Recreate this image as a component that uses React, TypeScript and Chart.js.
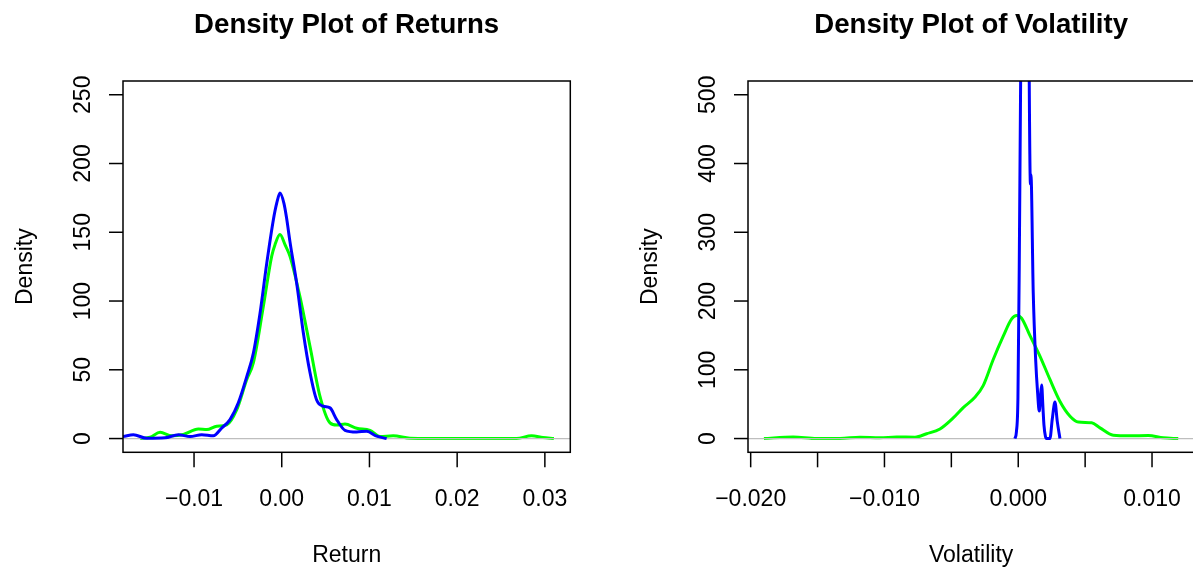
import React, { useEffect, useRef } from "react";
import { Chart, registerables } from "chart.js";

Chart.register(...registerables);

const FONT = '"Liberation Sans", Arial, Helvetica, sans-serif';

// ---------- Returns panel ----------
const retTitle = "Density Plot of Returns";
const retXTitle = "Return";
const retXTicks = [-0.01, 0, 0.01, 0.02, 0.03];
const retXTickLabels = ["\u22120.01", "0.00", "0.01", "0.02", "0.03"];
const retYTicks = [0, 50, 100, 150, 200, 250];
const retYTickLabels = ["0", "50", "100", "150", "200", "250"];

const retGreenX = [
  -0.01615, -0.01501, -0.01387, -0.01254, -0.01122, -0.00951, -0.00855, -0.00741,
  -0.00627, -0.00513, -0.00399, -0.00324, -0.0021, -0.00115, -0.00077, -0.0002,
  0.00037, 0.00094, 0.00208, 0.00322, 0.00436, 0.0055, 0.00626, 0.00721, 0.00854,
  0.01006, 0.0112, 0.01271, 0.01462, 0.01689, 0.02678, 0.02848, 0.02977, 0.03103,
];
const retGreenY = [
  0, 1, 4.5, 2, 3, 7, 6.5, 9,
  10, 21, 43, 55, 96, 132.5, 141, 148.3,
  141, 132.5, 103, 67, 30.7, 11.4, 9.8, 10.5, 7.5,
  6, 1.5, 2, 0.2, 0, 0, 2, 0.8, 0,
];

const retBlueX = [
  -0.0185, -0.01809, -0.01692, -0.01539, -0.0133, -0.01179, -0.01046, -0.00912,
  -0.0078, -0.00684, -0.0059, -0.00495, -0.00399, -0.00324, -0.00248, -0.00172,
  -0.00096, -0.00058, -0.0002, 0.00025, 0.00056, 0.00094, 0.0017, 0.00246, 0.00322,
  0.00398, 0.00474, 0.0055, 0.00626, 0.00721, 0.00854, 0.00968, 0.01082, 0.01196,
];
const retBlueY = [
  1.2, 1.5, 2.8, 0.2, 0.5, 2.8, 1.5, 2.8,
  2, 7.7, 13.8, 26, 45, 62, 91, 127,
  159, 171, 178.5, 171, 160, 143, 113, 77, 48,
  28, 23.5, 22.3, 13.8, 6, 4.8, 5.3, 1.7, 0,
];

// ---------- Volatility panel ----------
const volTitle = "Density Plot of Volatility";
const volXTitle = "Volatility";
const volXTicks = [-0.02, -0.015, -0.01, -0.005, 0, 0.005, 0.01];
const volXTickLabels = ["\u22120.020", "", "\u22120.010", "", "0.000", "", "0.010"];
const volYTicks = [0, 100, 200, 300, 400, 500];
const volYTickLabels = ["0", "100", "200", "300", "400", "500"];

const volGreenX = [
  -0.01901, -0.01682, -0.01507, -0.01333, -0.01183, -0.01034, -0.00909, -0.00772,
  -0.00685, -0.00585, -0.00486, -0.00411, -0.00324, -0.00262, -0.00187, -0.00112,
  -0.00049, -0.00012, 0.00025, 0.00087, 0.00162, 0.00237, 0.00312, 0.00387, 0.00449,
  0.00549, 0.00611, 0.0071, 0.00835, 0.00972, 0.01084, 0.01196,
];
const volGreenY = [
  0, 2.4, 0, 0, 2, 1, 2.4, 2,
  7, 14, 30, 45, 60, 77, 115, 149,
  174, 179, 175, 150, 120, 86, 54, 32.5, 24,
  23, 15.5, 4.8, 3.9, 4.4, 1, 0,
];

const volBlueX = [
  -0.000247, -0.000135, -0.000022, 0.000075, 0.000179, 0.000277, 0.000501, 0.000725,
  0.000822, 0.000912, 0.000949, 0.001121, 0.001301, 0.00145, 0.00157, 0.00166,
  0.00175, 0.001847, 0.001921, 0.002034, 0.002123, 0.00237, 0.002542, 0.002744,
  0.002916, 0.003118,
];
const volBlueY = [
  0, 10, 60, 250, 520, 900, 1300, 900,
  520, 370, 384, 212, 115, 66, 40, 60,
  78, 45, 20, 3, 0, 0, 28, 53,
  25, 0,
];

type PanelProps = {
  left: number;
  width: number;
  padding: { left: number; right: number; top: number; bottom: number };
  xMin: number;
  xMax: number;
  yMin: number;
  yMax: number;
  xTicks: number[];
  xTickLabels: string[];
  yTicks: number[];
  yTickLabels: string[];
  title: string;
  xTitle: string;
  greenX: number[];
  greenY: number[];
  blueX: number[];
  blueY: number[];
};

function zip(xs: number[], ys: number[]) {
  return xs.map((x, i) => ({ x, y: ys[i] }));
}

function Panel(p: PanelProps) {
  const ref = useRef<HTMLCanvasElement>(null);
  useEffect(() => {
    const canvas = ref.current!;
    const decor = {
      id: "rDecor",
      afterDatasetDraw(chart: any, args: any) {
        if (args.index !== 0) return;
        const { ctx, chartArea: ca, scales } = chart;
        const y0 = scales.y.getPixelForValue(0);
        ctx.save();
        ctx.beginPath();
        ctx.rect(ca.left, ca.top, ca.right - ca.left, ca.bottom - ca.top);
        ctx.clip();
        ctx.strokeStyle = "#BEBEBE";
        ctx.lineWidth = 1.2;
        ctx.beginPath();
        ctx.moveTo(ca.left, y0);
        ctx.lineTo(ca.right, y0);
        ctx.stroke();
        ctx.restore();
      },
      afterDraw(chart: any) {
        const { ctx, chartArea: ca, scales } = chart;
        const xs = scales.x;
        const ys = scales.y;
        ctx.save();
        ctx.strokeStyle = "#000";
        ctx.fillStyle = "#000";
        ctx.lineWidth = 1.5;
        ctx.strokeRect(ca.left, ca.top, ca.right - ca.left, ca.bottom - ca.top);
        // x ticks
        ctx.font = `23px ${FONT}`;
        ctx.textAlign = "center";
        ctx.textBaseline = "alphabetic";
        p.xTicks.forEach((v, i) => {
          const px = xs.getPixelForValue(v);
          ctx.beginPath();
          ctx.moveTo(px, ca.bottom);
          ctx.lineTo(px, ca.bottom + 15);
          ctx.stroke();
          const lab = p.xTickLabels[i];
          if (lab) ctx.fillText(lab, px, ca.bottom + 54);
        });
        // y ticks
        p.yTicks.forEach((v, i) => {
          const py = ys.getPixelForValue(v);
          ctx.beginPath();
          ctx.moveTo(ca.left, py);
          ctx.lineTo(ca.left - 14, py);
          ctx.stroke();
          ctx.save();
          ctx.translate(ca.left - 33, py);
          ctx.rotate(-Math.PI / 2);
          ctx.fillText(p.yTickLabels[i], 0, 0);
          ctx.restore();
        });
        const cx = (ca.left + ca.right) / 2;
        const cy = (ca.top + ca.bottom) / 2;
        // axis titles
        ctx.fillText(p.xTitle, cx, ca.bottom + 109.5);
        ctx.save();
        ctx.translate(ca.left - 91.5, cy);
        ctx.rotate(-Math.PI / 2);
        ctx.fillText("Density", 0, 0);
        ctx.restore();
        // main title
        ctx.font = `bold 27.6px ${FONT}`;
        ctx.fillText(p.title, cx, 33.3);
        ctx.restore();
      },
    };
    const chart = new Chart(canvas, {
      type: "line",
      data: {
        datasets: [
          {
            data: zip(p.greenX, p.greenY),
            borderColor: "#00FF00",
            borderWidth: 3,
            pointRadius: 0,
            cubicInterpolationMode: "monotone",
            fill: false,
            clip: 0,
            order: 1,
          } as any,
          {
            data: zip(p.blueX, p.blueY),
            borderColor: "#0000FF",
            borderWidth: 3,
            pointRadius: 0,
            cubicInterpolationMode: "monotone",
            fill: false,
            clip: 0,
            order: 0,
          } as any,
        ],
      },
      options: {
        animation: false,
        responsive: false,
        maintainAspectRatio: false,
        events: [],
        layout: { padding: p.padding },
        scales: {
          x: { type: "linear", min: p.xMin, max: p.xMax, display: false },
          y: { type: "linear", min: p.yMin, max: p.yMax, display: false },
        },
        plugins: {
          legend: { display: false },
          tooltip: { enabled: false },
          title: { display: false },
        },
      },
      plugins: [decor],
    });
    return () => chart.destroy();
  }, []);
  return (
    <canvas
      ref={ref}
      width={p.width}
      height={569}
      style={{ position: "absolute", left: p.left, top: 0, width: p.width, height: 569 }}
    />
  );
}

export default function App() {
  return (
    <div
      style={{
        position: "absolute",
        left: 0,
        top: 0,
        width: 1193,
        height: 569,
        overflow: "hidden",
        background: "#fff",
      }}
    >
      <Panel
        left={0}
        width={600}
        padding={{ left: 123, right: 29.7, top: 81, bottom: 116.7 }}
        xMin={-0.0181}
        xMax={0.0329}
        yMin={-10}
        yMax={260}
        xTicks={retXTicks}
        xTickLabels={retXTickLabels}
        yTicks={retYTicks}
        yTickLabels={retYTickLabels}
        title={retTitle}
        xTitle={retXTitle}
        greenX={retGreenX}
        greenY={retGreenY}
        blueX={retBlueX}
        blueY={retBlueY}
      />
      <Panel
        left={600}
        width={600}
        padding={{ left: 148, right: 5.7, top: 81, bottom: 116.7 }}
        xMin={-0.0202}
        xMax={0.01316}
        yMin={-20}
        yMax={520}
        xTicks={volXTicks}
        xTickLabels={volXTickLabels}
        yTicks={volYTicks}
        yTickLabels={volYTickLabels}
        title={volTitle}
        xTitle={volXTitle}
        greenX={volGreenX}
        greenY={volGreenY}
        blueX={volBlueX}
        blueY={volBlueY}
      />
    </div>
  );
}
